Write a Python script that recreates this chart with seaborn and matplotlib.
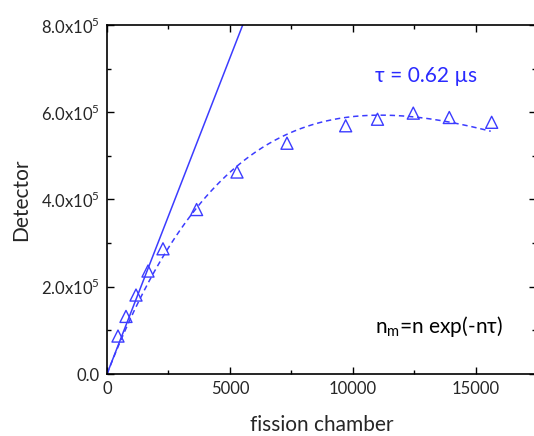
import numpy as np
import pandas as pd
import matplotlib
matplotlib.use("Agg")
import matplotlib.pyplot as plt
import seaborn as sns
from matplotlib.ticker import FixedLocator, FixedFormatter, MultipleLocator

# ---- data ----
fission = [447, 772, 1179, 1667, 2276, 3642, 5285, 7317, 9703, 10996, 12451, 13915, 15638]
detector = [87e3, 132e3, 181e3, 236e3, 287e3, 377e3, 463e3, 529e3, 569e3, 584e3, 598e3, 588e3, 577e3]

# model shown in the chart: n_m = n exp(-n tau), with n = gain * fission
gain = 145.0
tau = 0.62e-6
model_x_range = [0, 15600]
linear_x = [0, 6500]

x_ticks = [0, 5000, 10000, 15000]
x_ticklabels = ["0", "5000", "10000", "15000"]
y_ticks = [0, 2e5, 4e5, 6e5, 8e5]
y_ticklabels = ["0.0", r"2.0x10$^{5}$", r"4.0x10$^{5}$", r"6.0x10$^{5}$", r"8.0x10$^{5}$"]

blue = "#3c3cff"

sns.set_theme(style="ticks")
plt.rcParams["font.family"] = ["Lato", "DejaVu Sans"]
plt.rcParams["mathtext.fontset"] = "custom"
plt.rcParams["mathtext.rm"] = "Lato"

fig = plt.figure(figsize=(5.34, 4.36), dpi=100)
ax = fig.add_axes([107 / 534, 1 - 374 / 436, (535.5 - 107) / 534, (374 - 25) / 436])

# model curves
mx = np.linspace(model_x_range[0], model_x_range[1], 300)
n = gain * mx
model_df = pd.DataFrame({"x": mx, "y": n * np.exp(-n * tau)})
lin_df = pd.DataFrame({"x": linear_x, "y": [gain * v for v in linear_x]})
pts_df = pd.DataFrame({"x": fission, "y": detector})

sns.lineplot(data=lin_df, x="x", y="y", ax=ax, color=blue, lw=1.1)
sns.lineplot(data=model_df, x="x", y="y", ax=ax, color=blue, lw=1.1,
             linestyle=(0, (3.5, 2.5)))
sns.scatterplot(data=pts_df, x="x", y="y", ax=ax, marker="^", s=75,
                facecolor="none", edgecolor=blue, linewidth=1.0, zorder=5)

ax.set_xlim(0, 17420)
ax.set_ylim(0, 8e5)

ax.xaxis.set_major_locator(FixedLocator(x_ticks))
ax.xaxis.set_major_formatter(FixedFormatter(x_ticklabels))
ax.xaxis.set_minor_locator(MultipleLocator(2500))
ax.yaxis.set_major_locator(FixedLocator(y_ticks))
ax.yaxis.set_major_formatter(FixedFormatter(y_ticklabels))
ax.yaxis.set_minor_locator(MultipleLocator(1e5))

ax.tick_params(which="both", direction="in", top=True, right=True,
               labeltop=False, labelright=False, color="black")
ax.tick_params(which="major", length=5, width=1.0, labelsize=12, pad=5)
ax.tick_params(which="minor", length=3, width=1.0)
for sp in ax.spines.values():
    sp.set_color("black")
    sp.set_linewidth(1.2)

ax.set_xlabel("fission chamber", fontsize=15, labelpad=13)
ax.set_ylabel("Detector", fontsize=15, labelpad=7)

ax.text(0.745, 0.855, "τ = 0.62 µs", transform=ax.transAxes, color="#2a2aff",
        fontsize=15, ha="center", va="center")
ax.text(0.775, 0.135, r"n$_{\mathrm{m}}$=n exp(-nτ)", transform=ax.transAxes, color="black",
        fontsize=15, ha="center", va="center")

fig.savefig("out.png", dpi=100)
